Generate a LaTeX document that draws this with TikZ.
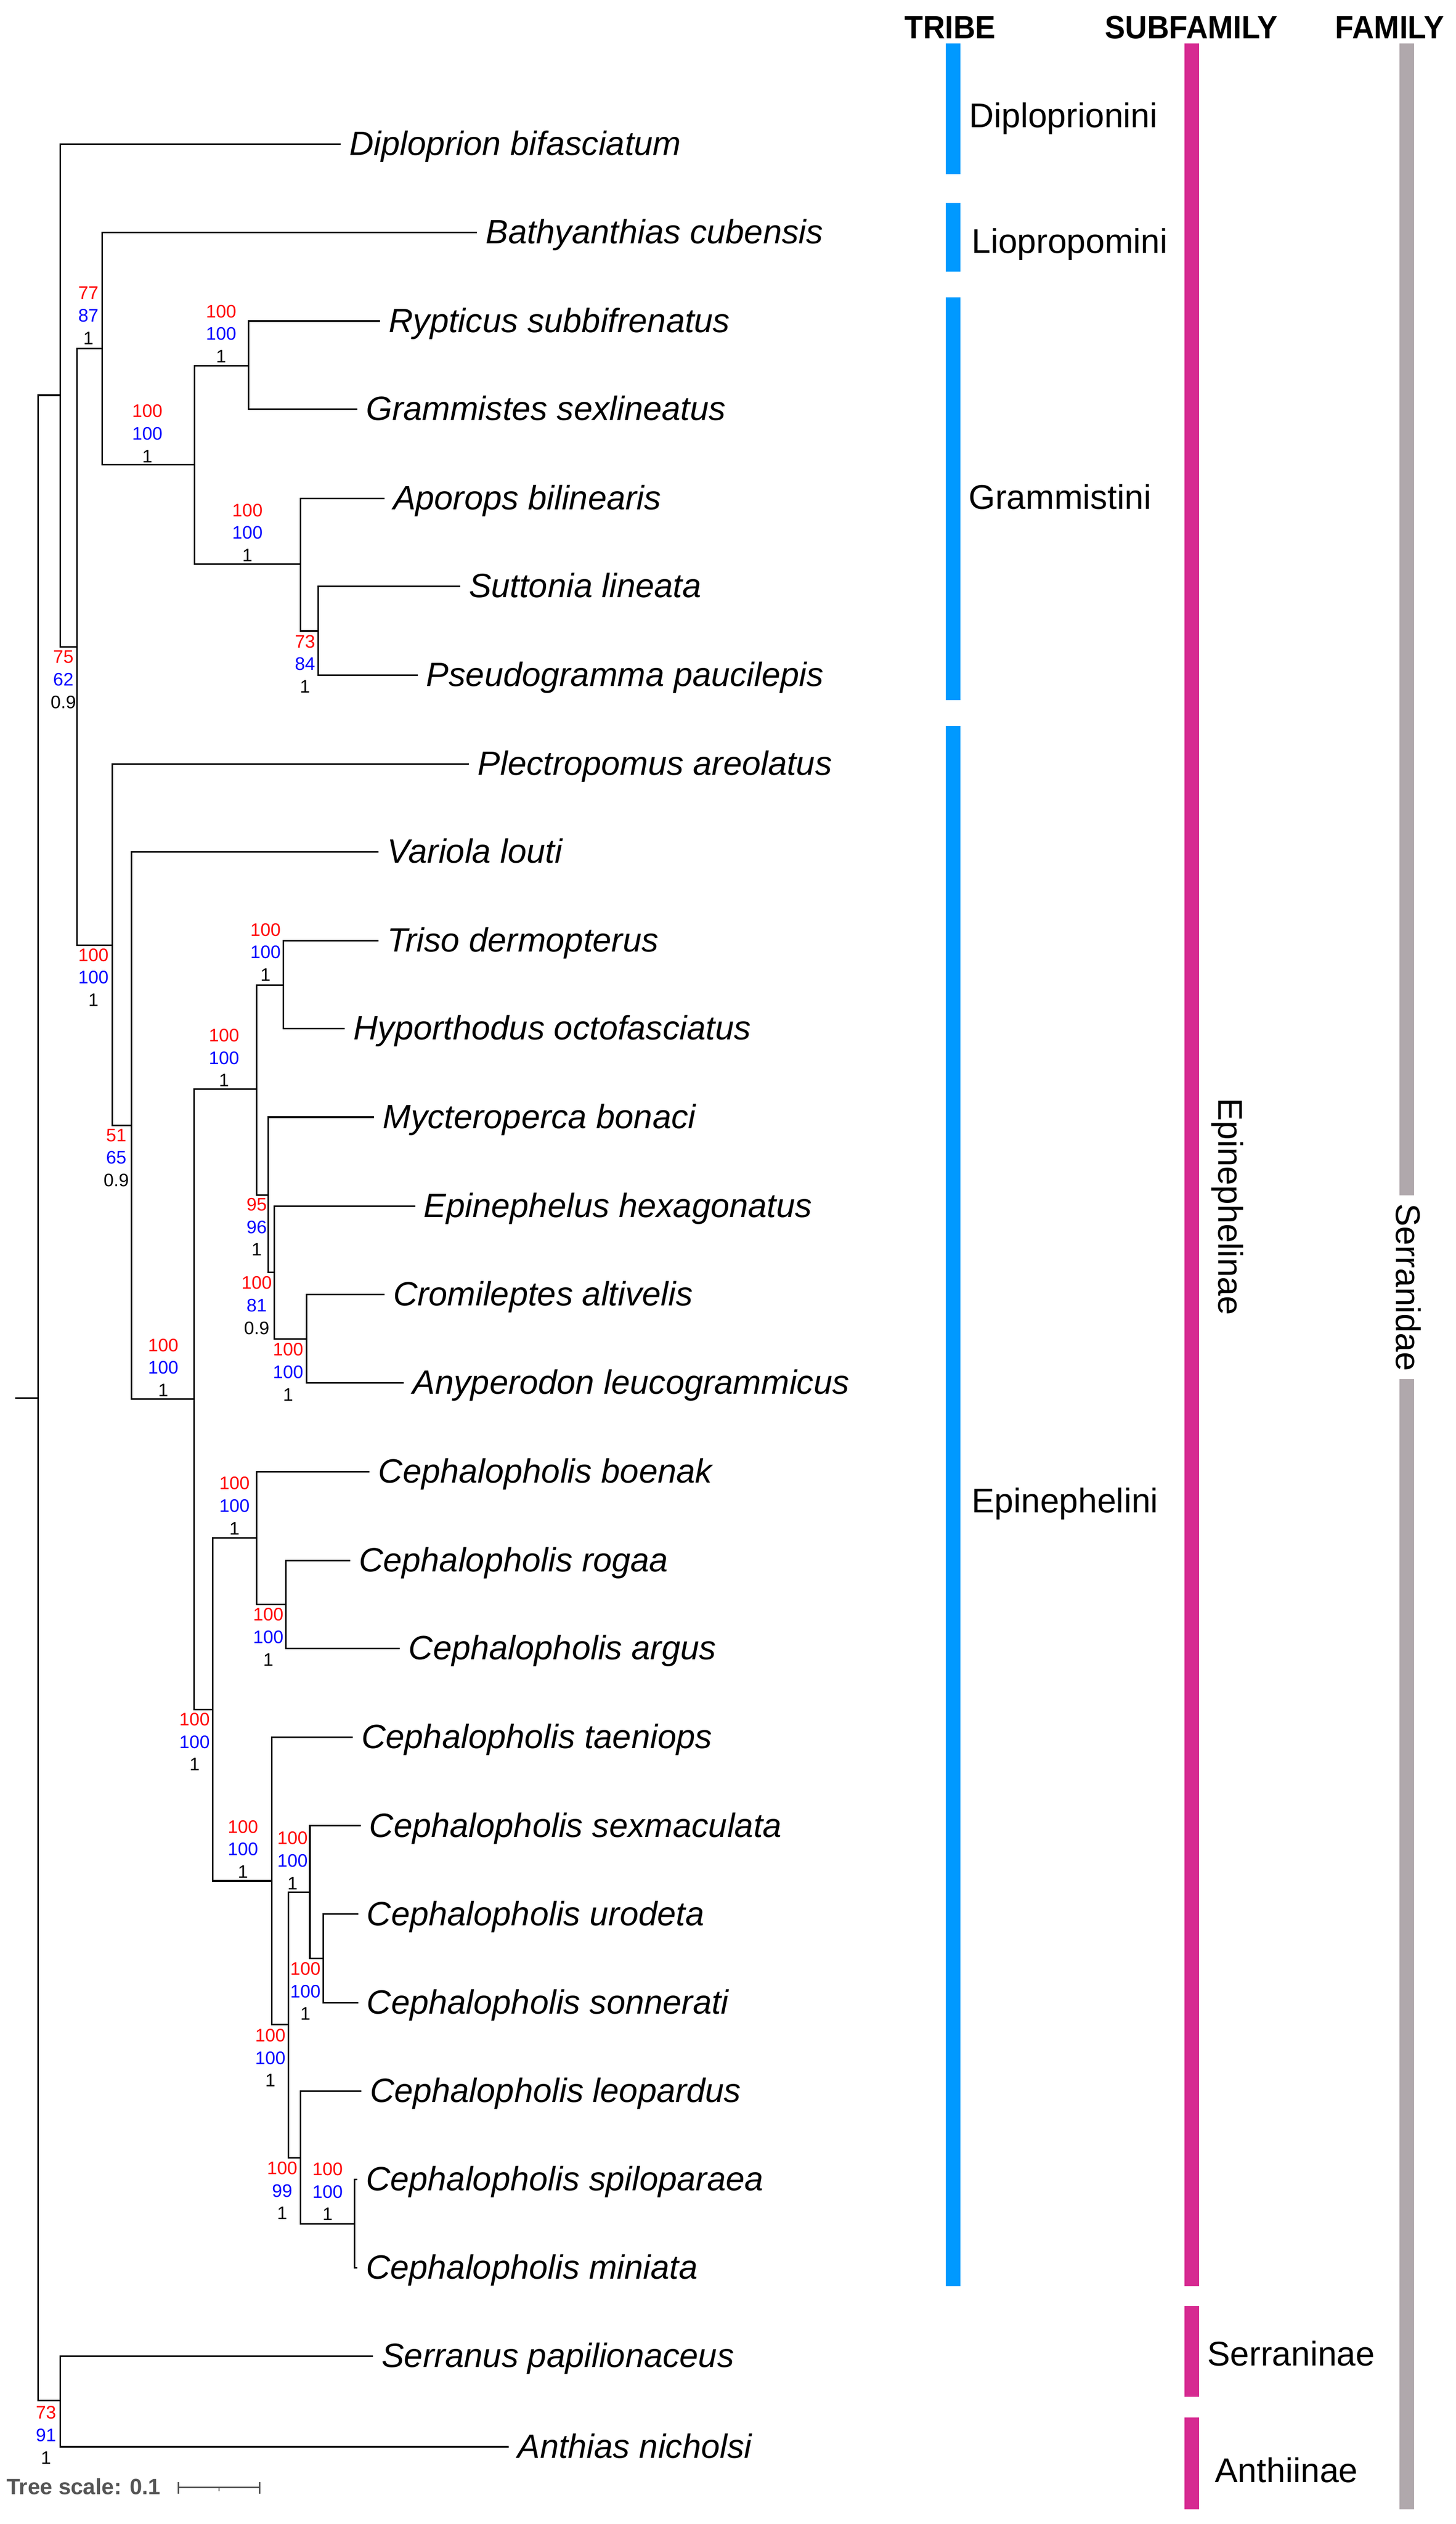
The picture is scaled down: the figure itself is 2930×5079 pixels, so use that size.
\documentclass[tikz,border=0pt]{standalone}
\usepackage{fontspec}
\setmainfont{Liberation Sans}
\newfontfamily\headfont[FakeStretch=0.94]{Liberation Sans}
\definecolor{tribeblue}{RGB}{0,153,255}
\definecolor{subfampink}{RGB}{214,42,145}
\definecolor{famgrey}{RGB}{176,168,172}
\definecolor{scalegrey}{RGB}{85,85,85}
\begin{document}
\begin{tikzpicture}[x=0.01cm, y=-0.01cm,
  branch/.style={line width=0.9pt},
  taxon/.style={anchor=west, inner xsep=0.17cm, inner ysep=0pt, text height=0.45cm, text depth=0pt,
    font=\fontsize{19.3pt}{23pt}\selectfont\itshape},
  support/.style={align=center, inner sep=0pt, font=\fontsize{10.4pt}{12.9pt}\selectfont},
  rank/.style={anchor=base west, inner sep=0pt, font=\fontsize{19.6pt}{23pt}\selectfont},
  header/.style={anchor=base, inner sep=0pt, font=\headfont\bfseries\fontsize{18.5pt}{21pt}\selectfont}]
  \useasboundingbox[fill=white] (0,0) rectangle (2930,5079);

  % Internal nodes of the tree
  \coordinate (base) at (30.6,2813);
  \coordinate (root) at (76.5,2813);
  \coordinate (nDip) at (121.2,795.4);
  \coordinate (nRest) at (155,1301.7);
  \coordinate (nLioGra) at (205.4,701.7);
  \coordinate (nGra) at (391.6,935);
  \coordinate (nRypGra) at (500.6,735.7);
  \coordinate (nApo) at (604.6,1135);
  \coordinate (nSutPse) at (640.3,1269.7);
  \coordinate (nEpi) at (226.4,1901.8);
  \coordinate (nVar) at (264.7,2265);
  \coordinate (nCore) at (390.3,2815);
  \coordinate (nEpiGrp) at (516.6,2192);
  \coordinate (nTriHyp) at (570.8,1982);
  \coordinate (nMyc) at (540,2404.5);
  \coordinate (nEpiCro) at (551.7,2560);
  \coordinate (nCroAny) at (616.7,2694);
  \coordinate (nCep) at (428.6,3440);
  \coordinate (nBoe) at (516.6,3094.6);
  \coordinate (nRogArg) at (575.3,3228.6);
  \coordinate (nTae) at (547.2,3784.8);
  \coordinate (nCepCore) at (580.4,4074);
  \coordinate (nSex) at (623.7,3808);
  \coordinate (nUroSon) at (650.5,3941);
  \coordinate (nLeo) at (604.6,4341.7);
  \coordinate (nSpiMin) at (713.4,4475);
  \coordinate (nOut) at (121.4,4830.6);

  % Taxa (tip of each branch)
  \node[taxon] (Dbif) at (685.6,289.6) {Diploprion bifasciatum};
  \node[taxon] (Bcub) at (960,467.8) {Bathyanthias cubensis};
  \node[taxon] (Rsub) at (765,646) {Rypticus subbifrenatus};
  \node[taxon] (Gsex) at (719,823.5) {Grammistes sexlineatus};
  \node[taxon] (Abil) at (773.6,1002.7) {Aporops bilinearis};
  \node[taxon] (Slin) at (926,1180) {Suttonia lineata};
  \node[taxon] (Ppau) at (840.6,1358.4) {Pseudogramma paucilepis};
  \node[taxon] (Pare) at (944,1537.5) {Plectropomus areolatus};
  \node[taxon] (Vlou) at (762,1714) {Variola louti};
  \node[taxon] (Tder) at (762,1893) {Triso dermopterus};
  \node[taxon] (Hoct) at (694,2069.6) {Hyporthodus octofasciatus};
  \node[taxon] (Mbon) at (752.6,2248) {Mycteroperca bonaci};
  \node[taxon] (Ehex) at (835.5,2427) {Epinephelus hexagonatus};
  \node[taxon] (Calt) at (773.6,2605) {Cromileptes altivelis};
  \node[taxon] (Aleu) at (813,2783) {Anyperodon leucogrammicus};
  \node[taxon] (Cboe) at (744,2961.6) {Cephalopholis boenak};
  \node[taxon] (Crog) at (704.7,3140) {Cephalopholis rogaa};
  \node[taxon] (Carg) at (805,3317) {Cephalopholis argus};
  \node[taxon] (Ctae) at (710,3495.5) {Cephalopholis taeniops};
  \node[taxon] (Csex) at (725.8,3674) {Cephalopholis sexmaculata};
  \node[taxon] (Curo) at (720.7,3851.8) {Cephalopholis urodeta};
  \node[taxon] (Cson) at (720.7,4030.4) {Cephalopholis sonnerati};
  \node[taxon] (Cleo) at (727,4208) {Cephalopholis leopardus};
  \node[taxon] (Cspi) at (719,4385.5) {Cephalopholis spiloparaea};
  \node[taxon] (Cmin) at (719,4563.3) {Cephalopholis miniata};
  \node[taxon] (Spap) at (750.6,4741) {Serranus papilionaceus};
  \node[taxon] (Anic) at (1024,4923.5) {Anthias nicholsi};

  % Branches
  \draw[branch] (base) -- (root);
  \draw[branch] (root) |- (nDip);
  \draw[branch] (root) |- (nOut);
  \draw[branch] (nDip) |- (Dbif.west);
  \draw[branch] (nDip) |- (nRest);
  \draw[branch] (nRest) |- (nLioGra);
  \draw[branch] (nRest) |- (nEpi);
  \draw[branch] (nLioGra) |- (Bcub.west);
  \draw[branch] (nLioGra) |- (nGra);
  \draw[branch] (nGra) |- (nRypGra);
  \draw[branch] (nGra) |- (nApo);
  \draw[branch] (nRypGra) |- (Rsub.west);
  \draw[branch] (nRypGra) |- (Gsex.west);
  \draw[branch] (nApo) |- (Abil.west);
  \draw[branch] (nApo) |- (nSutPse);
  \draw[branch] (nSutPse) |- (Slin.west);
  \draw[branch] (nSutPse) |- (Ppau.west);
  \draw[branch] (nEpi) |- (Pare.west);
  \draw[branch] (nEpi) |- (nVar);
  \draw[branch] (nVar) |- (Vlou.west);
  \draw[branch] (nVar) |- (nCore);
  \draw[branch] (nCore) |- (nEpiGrp);
  \draw[branch] (nCore) |- (nCep);
  \draw[branch] (nEpiGrp) |- (nTriHyp);
  \draw[branch] (nEpiGrp) |- (nMyc);
  \draw[branch] (nTriHyp) |- (Tder.west);
  \draw[branch] (nTriHyp) |- (Hoct.west);
  \draw[branch] (nMyc) |- (Mbon.west);
  \draw[branch] (nMyc) |- (nEpiCro);
  \draw[branch] (nEpiCro) |- (Ehex.west);
  \draw[branch] (nEpiCro) |- (nCroAny);
  \draw[branch] (nCroAny) |- (Calt.west);
  \draw[branch] (nCroAny) |- (Aleu.west);
  \draw[branch] (nCep) |- (nBoe);
  \draw[branch] (nCep) |- (nTae);
  \draw[branch] (nBoe) |- (Cboe.west);
  \draw[branch] (nBoe) |- (nRogArg);
  \draw[branch] (nRogArg) |- (Crog.west);
  \draw[branch] (nRogArg) |- (Carg.west);
  \draw[branch] (nTae) |- (Ctae.west);
  \draw[branch] (nTae) |- (nCepCore);
  \draw[branch] (nCepCore) |- (nSex);
  \draw[branch] (nCepCore) |- (nLeo);
  \draw[branch] (nSex) |- (Csex.west);
  \draw[branch] (nSex) |- (nUroSon);
  \draw[branch] (nUroSon) |- (Curo.west);
  \draw[branch] (nUroSon) |- (Cson.west);
  \draw[branch] (nLeo) |- (Cleo.west);
  \draw[branch] (nLeo) |- (nSpiMin);
  \draw[branch] (nSpiMin) |- (Cspi.west);
  \draw[branch] (nSpiMin) |- (Cmin.west);
  \draw[branch] (nOut) |- (Spap.west);
  \draw[branch] (nOut) |- (Anic.west);

  % Node support (ML bootstrap / MP bootstrap / posterior)
  \node[support] (sLioGra) at (178,635) {\textcolor{red}{77}\\\textcolor{blue}{87}\\1};
  \node[support] (sRest) at (127.5,1367.5) {\textcolor{red}{75}\\\textcolor{blue}{62}\\0.9};
  \node[support] (sGra) at (296.6,872.5) {\textcolor{red}{100}\\\textcolor{blue}{100}\\1};
  \node[support] (sRypGra) at (445,671.8) {\textcolor{red}{100}\\\textcolor{blue}{100}\\1};
  \node[support] (sApo) at (498,1072) {\textcolor{red}{100}\\\textcolor{blue}{100}\\1};
  \node[support] (sSutPse) at (614,1336) {\textcolor{red}{73}\\\textcolor{blue}{84}\\1};
  \node[support] (sEpi) at (188,1967) {\textcolor{red}{100}\\\textcolor{blue}{100}\\1};
  \node[support] (sVar) at (234,2330) {\textcolor{red}{51}\\\textcolor{blue}{65}\\0.9};
  \node[support] (sCore) at (328.4,2752) {\textcolor{red}{100}\\\textcolor{blue}{100}\\1};
  \node[support] (sEpiGrp) at (451,2128.6) {\textcolor{red}{100}\\\textcolor{blue}{100}\\1};
  \node[support] (sTriHyp) at (534.4,1916) {\textcolor{red}{100}\\\textcolor{blue}{100}\\1};
  \node[support] (sMyc) at (516.6,2469) {\textcolor{red}{95}\\\textcolor{blue}{96}\\1};
  \node[support] (sEpiCro) at (516.6,2627) {\textcolor{red}{100}\\\textcolor{blue}{81}\\0.9};
  \node[support] (sCroAny) at (580,2761) {\textcolor{red}{100}\\\textcolor{blue}{100}\\1};
  \node[support] (sCep) at (391.6,3505) {\textcolor{red}{100}\\\textcolor{blue}{100}\\1};
  \node[support] (sBoe) at (472,3030) {\textcolor{red}{100}\\\textcolor{blue}{100}\\1};
  \node[support] (sRogArg) at (540,3294) {\textcolor{red}{100}\\\textcolor{blue}{100}\\1};
  \node[support] (sTae) at (489,3721) {\textcolor{red}{100}\\\textcolor{blue}{100}\\1};
  \node[support] (sCepCore) at (544,4141) {\textcolor{red}{100}\\\textcolor{blue}{100}\\1};
  \node[support] (sSex) at (588.7,3744) {\textcolor{red}{100}\\\textcolor{blue}{100}\\1};
  \node[support] (sUroSon) at (614.8,4007) {\textcolor{red}{100}\\\textcolor{blue}{100}\\1};
  \node[support] (sLeo) at (568,4408) {\textcolor{red}{100}\\\textcolor{blue}{99}\\1};
  \node[support] (sSpiMin) at (659.4,4410) {\textcolor{red}{100}\\\textcolor{blue}{100}\\1};
  \node[support] (sOut) at (92.6,4900) {\textcolor{red}{73}\\\textcolor{blue}{91}\\1};

  % Column headers
  \node[header] (hTribe) at (1912.5,78) {TRIBE};
  \node[header] (hSubfam) at (2398,78) {SUBFAMILY};
  \node[header] (hFam) at (2797,78) {FAMILY};

  % Tribe bars
  \fill[tribeblue] (1904,87) rectangle (1933,350);
  \fill[tribeblue] (1904,408) rectangle (1933,546);
  \fill[tribeblue] (1904,598) rectangle (1933,1409);
  \fill[tribeblue] (1904,1461) rectangle (1933,4600);
  \node[rank] (tDip) at (1950,257) {Diploprionini};
  \node[rank] (tLio) at (1955,509) {Liopropomini};
  \node[rank] (tGra) at (1949,1024) {Grammistini};
  \node[rank] (tEpi) at (1955,3044) {Epinephelini};

  % Subfamily bars
  \fill[subfampink] (2384,87) rectangle (2413,4600);
  \fill[subfampink] (2384,4640) rectangle (2413,4823);
  \fill[subfampink] (2384,4865) rectangle (2413,5049);
  \node[rank, anchor=base, rotate=-90] (sfEpi) at (2453,2428) {Epinephelinae};
  \node[rank] (sfSer) at (2429.5,4760) {Serraninae};
  \node[rank] (sfAnt) at (2445,4995) {Anthiinae};

  % Family bar (broken around its label)
  \fill[famgrey] (2817,87) rectangle (2846,2405);
  \fill[famgrey] (2817,2775) rectangle (2846,5049);
  \node[rank, anchor=base, rotate=-90] (fSer) at (2810,2590.5) {Serranidae};

  % Tree scale
  \node[anchor=base west, inner sep=0pt, text=scalegrey, font=\bfseries\fontsize{12.7pt}{15pt}\selectfont] (scaleText) at (13,5020) {Tree scale: 0.1};
  \draw[scalegrey, line width=0.85pt] (359,5005.5) -- (522.6,5005.5);
  \draw[scalegrey, line width=0.85pt] (359,4995) -- (359,5018);
  \draw[scalegrey, line width=0.85pt] (522.6,4995) -- (522.6,5018);
  \draw[scalegrey, line width=0.6pt] (440.5,5005.5) -- (440.5,5013);
\end{tikzpicture}
\end{document}
